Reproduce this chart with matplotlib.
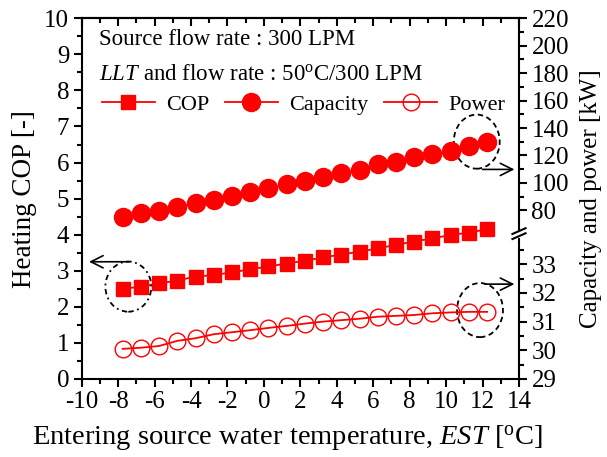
import matplotlib
matplotlib.use('Agg')
import matplotlib.pyplot as plt
from matplotlib.patches import Ellipse
from matplotlib.ticker import MultipleLocator, FixedLocator

plt.rcParams['font.family'] = ['Liberation Serif', 'DejaVu Serif']
plt.rcParams['mathtext.fontset'] = 'custom'
plt.rcParams['mathtext.rm'] = 'Liberation Serif'
plt.rcParams['mathtext.it'] = 'Liberation Serif:italic'
plt.rcParams['axes.unicode_minus'] = False

# data
est = [-7.75, -6.75, -5.75, -4.75, -3.75, -2.75, -1.75, -0.75, 0.25, 1.25, 2.25,
       3.25, 4.25, 5.25, 6.25, 7.25, 8.25, 9.25, 10.25, 11.25, 12.25]
cop = [2.50, 2.56, 2.65, 2.73, 2.84, 2.88, 2.96, 3.04, 3.12, 3.20, 3.28,
       3.37, 3.45, 3.53, 3.62, 3.72, 3.81, 3.90, 3.99, 4.06, 4.15]
capacity = [74.9, 77.8, 79.5, 82.6, 85.1, 87.5, 90.4, 93.6, 96.1, 99.0, 101.4,
            104.1, 107.4, 109.4, 113.5, 115.4, 118.6, 121.1, 123.5, 127.1, 130.0]
power = [30.05, 30.09, 30.15, 30.33, 30.42, 30.56, 30.63, 30.70, 30.78, 30.85, 30.93,
         31.00, 31.05, 31.10, 31.17, 31.20, 31.23, 31.29, 31.32, 31.34, 31.34]

red = '#ff0000'
fs = 18

fig = plt.figure(figsize=(6.07, 4.57), dpi=100)
ax = fig.add_axes([0.1346, 0.1707, 0.7204, 0.7893])
cap = ax.twinx()
pw = ax.twinx()

l1, = ax.plot(est, cop, '-s', color=red, ms=10.5, lw=1.3, label='COP')
l2, = cap.plot(est, capacity, '-o', color=red, ms=13, lw=1.3, label='Capacity')
l3, = pw.plot(est, power, '-o', color=red, ms=12, lw=1.3, mfc='none', mew=1.0,
              label='Power')

ax.set_xlim(-10, 14)
ax.set_ylim(0, 10)
cap.set_ylim(-43, 220)
pw.set_ylim(29, 41.57)

ax.xaxis.set_major_locator(MultipleLocator(2))
ax.xaxis.set_minor_locator(MultipleLocator(1))
ax.yaxis.set_major_locator(MultipleLocator(1))
ax.yaxis.set_minor_locator(MultipleLocator(0.5))
cap.yaxis.set_major_locator(FixedLocator(range(80, 221, 20)))
cap.yaxis.set_minor_locator(FixedLocator(range(90, 220, 20)))
pw.yaxis.set_major_locator(FixedLocator([29, 30, 31, 32, 33]))
pw.yaxis.set_minor_locator(FixedLocator([29.5, 30.5, 31.5, 32.5, 33.5]))

for a in (ax, cap, pw):
    for s in a.spines.values():
        s.set_linewidth(1.5)
ax.spines['right'].set_visible(False)
for a in (cap, pw):
    for k in ('left', 'top', 'bottom'):
        a.spines[k].set_visible(False)
cap.spines['right'].set_bounds(64.8, 220)
pw.spines['right'].set_bounds(29, 33.88)

ax.tick_params(which='both', direction='out', width=1.5, labelsize=fs, pad=3)
ax.tick_params(which='major', length=6)
ax.tick_params(which='minor', length=3.5)
for a in (cap, pw):
    a.tick_params(which='both', direction='out', width=1.5, labelsize=fs, pad=3)
    a.tick_params(which='major', length=6)
    a.tick_params(which='minor', length=3.5)

top = ax.secondary_xaxis('top')
top.xaxis.set_major_locator(MultipleLocator(2))
top.xaxis.set_minor_locator(MultipleLocator(1))
top.tick_params(which='both', direction='in', width=1.5, labeltop=False)
top.tick_params(which='major', length=6)
top.tick_params(which='minor', length=3.5)
top.spines['top'].set_linewidth(1.5)

ax.set_xlabel('Entering source water temperature, $\\mathit{EST}$ [$^{\\mathrm{o}}$C]',
              fontsize=20.5, labelpad=6)
ax.xaxis.set_label_coords(0.47, -0.125)
ax.set_ylabel('Heating COP [-]', fontsize=19.5, labelpad=5)
cap.set_ylabel('Capacity and power [kW]', fontsize=fs, labelpad=8)

# break marks on the right axis
for dy in (-0.06, 0.08):
    ax.plot([0.985, 1.015], [3.94 + dy, 4.1 + dy], color='k', lw=1.5,
            transform=ax.get_yaxis_transform(), clip_on=False)

# notes and legend
ax.text(0.04, 0.925, 'Source flow rate : 300 LPM', transform=ax.transAxes,
        fontsize=16.5, va='baseline')
ax.text(0.04, 0.828, '$\\mathit{LLT}$ and flow rate : 50$^{\\mathrm{o}}$C/300 LPM',
        transform=ax.transAxes, fontsize=16.5, va='baseline')
ax.legend([l1, l2, l3], ['COP', 'Capacity', 'Power'], ncol=3, frameon=False,
          loc='center left', bbox_to_anchor=(0.025, 0.76), fontsize=16,
          handlelength=2.4, handletextpad=0.5, columnspacing=0.7, borderaxespad=0)

# dashed circles with arrows
ax.add_patch(Ellipse((-7.44, 2.56), 2.52, 1.39, fill=False, ls=(0, (3, 2, 1, 2)),
                     lw=1.3, ec='k', zorder=5))
ax.annotate('', xy=(-9.75, 3.25), xytext=(-7.26, 3.25),
            arrowprops=dict(arrowstyle='->', lw=1.2, color='k', mutation_scale=22))
ax.add_patch(Ellipse((11.68, 6.58), 2.52, 1.5, fill=False, ls=(0, (3, 2)),
                     lw=1.3, ec='k', zorder=5))
ax.annotate('', xy=(13.9, 5.81), xytext=(11.85, 5.81), annotation_clip=False,
            arrowprops=dict(arrowstyle='->', lw=1.2, color='k', mutation_scale=22))
ax.add_patch(Ellipse((11.86, 1.91), 2.52, 1.5, fill=False, ls=(0, (3, 2)),
                     lw=1.3, ec='k', zorder=5))
ax.annotate('', xy=(13.9, 2.63), xytext=(11.98, 2.63), annotation_clip=False,
            arrowprops=dict(arrowstyle='->', lw=1.2, color='k', mutation_scale=22))

fig.savefig('out.png', dpi=100)
